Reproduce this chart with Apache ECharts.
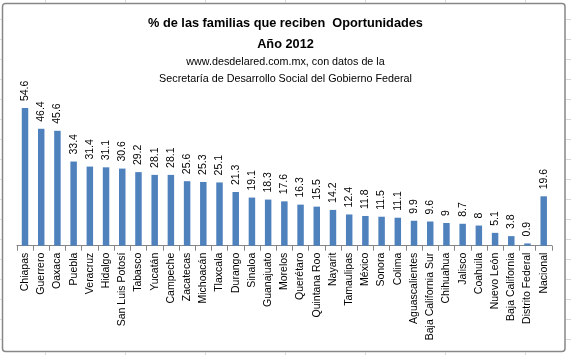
<!DOCTYPE html>
<html>
<head>
<meta charset="utf-8">
<script src="https://cdn.jsdelivr.net/npm/echarts@6/dist/echarts.min.js"></script>
<style>
html,body{margin:0;padding:0;background:#fff;}
#c{width:571px;height:355px;}
</style>
</head>
<body>
<div id="c"></div>
<script>
const categories = ['Chiapas','Guerrero','Oaxaca','Puebla','Veracruz','Hidalgo','San Luis Potosí','Tabasco','Yucatán','Campeche','Zacatecas','Michoacán','Tlaxcala','Durango','Sinaloa','Guanajuato','Morelos','Querétaro','Quintana Roo','Nayarit','Tamaulipas','México','Sonora','Colima','Aguascalientes','Baja California Sur','Chihuahua','Jalisco','Coahuila','Nuevo León','Baja California','Distrito Federal','Nacional'];
const values = [54.6,46.4,45.6,33.4,31.4,31.1,30.6,29.2,28.1,28.1,25.6,25.3,25.1,21.3,19.1,18.3,17.6,16.3,15.5,14.2,12.4,11.8,11.5,11.1,9.9,9.6,9,8.7,8,5.1,3.8,0.9,19.6];
const titleLines = ['% de las familias que reciben  Oportunidades','Año 2012'];
const subtitleLines = ['www.desdelared.com.mx, con datos de la','Secretaría de Desarrollo Social del Gobierno Federal'];

const cvs = document.createElement('canvas').getContext('2d');
function fit(text, family, weight, target){
  cvs.font = weight + ' 100px ' + family;
  return 100 * target / cvs.measureText(text).width;
}
const TF = '"Liberation Sans Narrow", "Liberation Sans", Arial, sans-serif';
const tSize = fit(titleLines[0], TF, 'bold', 275);
const sSize = fit(subtitleLines[1], TF, 'normal', 253);

const chart = echarts.init(document.getElementById('c'), null, {renderer:'canvas'});

// spreadsheet grid peeking around the chart frame (only in the margins)
const bg = [];
const gl = {stroke:'#d9d9d9',lineWidth:1};
[45,125,205,285,365,445,525].forEach(x=>{
  bg.push({type:'line',shape:{x1:x+0.5,y1:0,x2:x+0.5,y2:2.5},style:gl,silent:true});
  bg.push({type:'line',shape:{x1:x+0.5,y1:352.5,x2:x+0.5,y2:355},style:gl,silent:true});
});
for(let y=19.5;y<355;y+=20){
  bg.push({type:'line',shape:{x1:0,y1:y,x2:1.5,y2:y},style:gl,silent:true});
  bg.push({type:'line',shape:{x1:566,y1:y,x2:571,y2:y},style:gl,silent:true});
}
bg.push({type:'rect',shape:{x:2.5,y:3.5,width:562.5,height:348,r:3},style:{fill:'none',stroke:'#878787',lineWidth:1.5},silent:true});

const titles = [
  {text:titleLines[0], top:17, size:tSize, weight:'bold'},
  {text:titleLines[1], top:38, size:tSize, weight:'bold'},
  {text:subtitleLines[0], top:56.5, size:sSize, weight:'normal'},
  {text:subtitleLines[1], top:73.5, size:sSize, weight:'normal'}
].map(t=>({
  text:t.text, left:285.5, top:t.top, textAlign:'center', padding:0,
  textStyle:{fontFamily:TF, fontSize:t.size, fontWeight:t.weight, color:'#000'}
}));

chart.setOption({
  animation:false,
  backgroundColor:'#fff',
  title: titles,
  graphic: bg,
  grid:{left:16.9, right:19.2, top:94.5, bottom:109.3},
  xAxis:{
    type:'category', data:categories,
    axisLine:{lineStyle:{color:'#868686',width:1}},
    axisTick:{show:true, alignWithLabel:false, length:5, lineStyle:{color:'#868686'}},
    axisLabel:{rotate:90, interval:0, margin:7, color:'#000', fontSize:10.5, fontFamily:'"Liberation Sans", Arial, sans-serif'}
  },
  yAxis:{type:'value', min:0, max:60, show:false, splitLine:{show:false}},
  series:[{
    type:'bar', data:values, barCategoryGap:'60%',
    itemStyle:{color:'#4F81BD'},
    label:{show:true, position:'top', rotate:90, align:'left', verticalAlign:'middle', distance:7,
      color:'#000', fontSize:10.5, fontFamily:'"Liberation Sans", Arial, sans-serif'}
  }]
});
</script>
</body>
</html>
